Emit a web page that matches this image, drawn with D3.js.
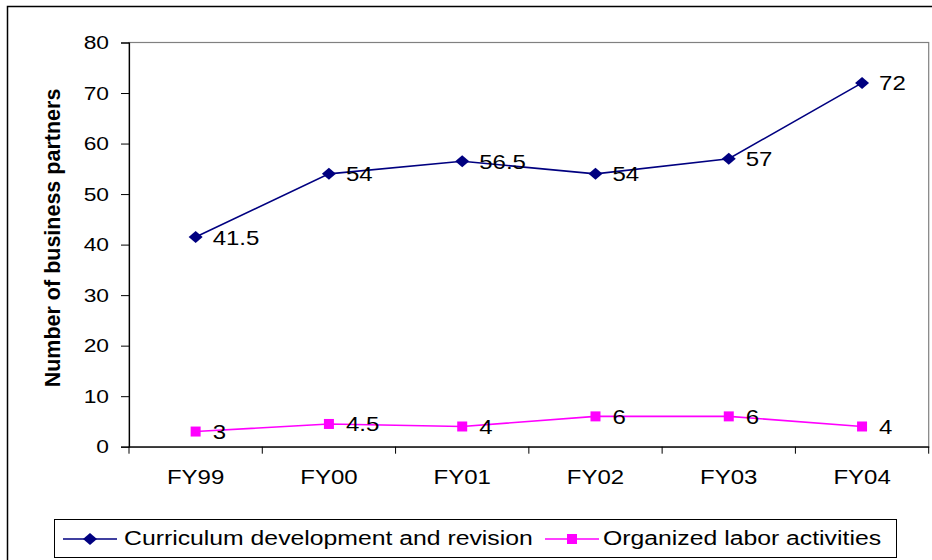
<!DOCTYPE html>
<html>
<head>
<meta charset="utf-8">
<script src="https://cdn.jsdelivr.net/npm/d3@7"></script>
<style>
  body { margin: 0; background: #fff; }
  text { font-family: "Liberation Sans", Arial, sans-serif; fill: #000; }
</style>
</head>
<body>
<svg id="viz" width="932" height="560"></svg>
<script>
// data
var years = ['FY99', 'FY00', 'FY01', 'FY02', 'FY03', 'FY04'];
var curriculum = [41.5, 54, 56.5, 54, 57, 72];
var labor = [3, 4.5, 4, 6, 6, 4];
var yTicks = [0, 10, 20, 30, 40, 50, 60, 70, 80];
var seriesNames = ['Curriculum development and revision', 'Organized labor activities'];

var svg = d3.select('#viz');
var margin = { left: 129, top: 42.5, right: 932 - 928.7, bottom: 560 - 446.7 };
var width = 932 - margin.left - margin.right;
var height = 560 - margin.top - margin.bottom;

// the original text is a bit wider than Arial, so widen it in place
const stretch = (sel, k) => {
  sel.each(function () {
    var t = d3.select(this);
    var tx = +t.attr('x') || 0;
    var ty = +t.attr('y') || 0;
    t.attr('x', 0).attr('y', 0)
      .attr('transform', 'translate(' + tx + ',' + ty + ') scale(' + k + ',1)');
  });
};

// outer chart frame
svg.append('rect')
  .attr('x', 7.5).attr('y', 6.5)
  .attr('width', 940).attr('height', 600)
  .attr('fill', 'none').attr('stroke', '#000').attr('stroke-width', 1.5);

var g = svg.append('g').attr('transform', 'translate(' + margin.left + ',' + margin.top + ')');

var x = d3.scaleBand().domain(years).range([0, width]);
var y = d3.scaleLinear().domain([0, 80]).range([height, 0]);

// plot area border (gray top/right)
g.append('rect')
  .attr('x', 0).attr('y', 0).attr('width', width).attr('height', height)
  .attr('fill', 'none').attr('stroke', '#808080').attr('stroke-width', 1.2);

// y axis
var yAxis = g.append('g')
  .call(d3.axisLeft(y).tickValues(yTicks).tickSize(8).tickPadding(12));
yAxis.select('.domain').attr('stroke', '#000').attr('stroke-width', 1.2);
yAxis.selectAll('line').attr('stroke', '#000');
yAxis.selectAll('text').style('font-size', '19px').style('font-family', '"Liberation Sans", Arial, sans-serif');
stretch(yAxis.selectAll('text'), 1.2);

// x axis, ticks sit on band edges
var xAxis = g.append('g').attr('transform', 'translate(0,' + height + ')')
  .call(d3.axisBottom(x).tickSize(0).tickPadding(23));
xAxis.select('.domain').attr('stroke', '#000').attr('stroke-width', 1.2);
xAxis.selectAll('text').style('font-size', '20px').style('font-family', '"Liberation Sans", Arial, sans-serif');
stretch(xAxis.selectAll('text'), 1.2);
g.append('g').selectAll('line')
  .data(years.concat(['end']))
  .enter().append('line')
  .attr('x1', function (d, i) { return i * x.step(); })
  .attr('x2', function (d, i) { return i * x.step(); })
  .attr('y1', height).attr('y2', height + 7)
  .attr('stroke', '#000');

// y title
svg.append('text')
  .attr('transform', 'rotate(-90)')
  .attr('x', -238).attr('y', 60)
  .attr('text-anchor', 'middle')
  .style('font-size', '21.5px').style('font-weight', 'bold')
  .text('Number of business partners');

var cx = function (d, i) { return x(years[i]) + x.bandwidth() / 2; };
var diamond = 'M0,-6L7,0L0,6L-7,0Z';
var square = 'M-5,-5H5V5H-5Z';

var drawSeries = function (vals, color, shape) {
  var line = d3.line().x(cx).y(function (d) { return y(d); });
  g.append('path').datum(vals)
    .attr('d', line).attr('fill', 'none')
    .attr('stroke', color).attr('stroke-width', 1.6);
  g.append('g').selectAll('path')
    .data(vals).enter().append('path')
    .attr('d', shape)
    .attr('transform', function (d, i) { return 'translate(' + cx(d, i) + ',' + y(d) + ')'; })
    .attr('fill', color);
  var labels = g.append('g').selectAll('text')
    .data(vals).enter().append('text')
    .attr('x', function (d, i) { return cx(d, i) + 17; })
    .attr('y', function (d) { return y(d) + 7.5; })
    .style('font-size', '20px')
    .text(function (d) { return d; });
  stretch(labels, 1.2);
};

drawSeries(curriculum, '#000080', diamond);
drawSeries(labor, '#FF00FF', square);

// legend
svg.append('rect')
  .attr('x', 54.5).attr('y', 519.5).attr('width', 842).attr('height', 38)
  .attr('fill', '#fff').attr('stroke', '#000').attr('stroke-width', 1);
var legendItems = [
  { name: seriesNames[0], color: '#000080', shape: diamond, x: 63, tx: 61 },
  { name: seriesNames[1], color: '#FF00FF', shape: square, x: 545, tx: 58 }
];
var lg = svg.append('g').selectAll('g').data(legendItems).enter().append('g')
  .attr('transform', function (d) { return 'translate(' + d.x + ',539)'; });
lg.append('line').attr('x1', 0).attr('x2', 54).attr('y1', 0).attr('y2', 0)
  .attr('stroke', function (d) { return d.color; }).attr('stroke-width', 1.6);
lg.append('path').attr('d', function (d) { return d.shape; })
  .attr('transform', 'translate(27,0)')
  .attr('fill', function (d) { return d.color; });
var legendText = lg.append('text')
  .attr('x', function (d) { return d.tx; }).attr('y', 5.5)
  .style('font-size', '21px')
  .text(function (d) { return d.name; });
stretch(legendText, 1.18);
</script>
</body>
</html>
